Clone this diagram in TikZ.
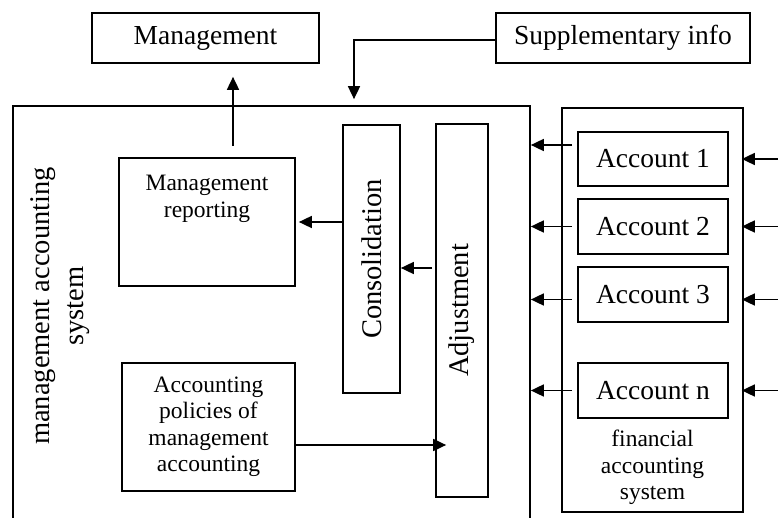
\documentclass[tikz,border=0pt]{standalone}
\usepackage{fontspec}
\setmainfont{Liberation Serif}
\usetikzlibrary{arrows.meta}
\begin{document}
\begin{tikzpicture}[x=1pt,y=-1pt,
  box/.style={draw, line width=1.7pt, inner sep=0pt, align=center},
  bigtxt/.style={font=\fontsize{27.5}{33}\selectfont},
  smalltxt/.style={font=\fontsize{23.5}{26.5}\selectfont},
  rottxt/.style={rotate=90, align=center, inner sep=0pt, font=\fontsize{28.5}{34}\selectfont},
  arr/.style={line width=1.7pt, -{Triangle[length=13pt,width=12pt]}},
  ln/.style={line width=1.7pt}]
\useasboundingbox (0,0) rectangle (778,518);
\clip (0,0) rectangle (778,518);
% boxes
\node[box, bigtxt, minimum width=227pt, minimum height=50pt] (mgmt) at (205.5,38) {Management};
\node[box, bigtxt, minimum width=254pt, minimum height=50pt] (supp) at (623,38) {Supplementary info};
\node[box, minimum width=517pt, minimum height=454pt] (main) at (271.5,333) {};
\node[rottxt] (mlab) at (60,306) {management accounting\\system};
\node[box, minimum width=176pt, minimum height=128pt] (rep) at (207,222) {};
\node[smalltxt, align=center, inner sep=0pt, anchor=north] (reptxt) at ([yshift=-18pt]rep.north) {Management\\reporting};
\node[box, minimum width=57pt, minimum height=268pt] (cons) at (371.5,259) {};
\node[rottxt] (constxt) at (cons) {Consolidation};
\node[box, minimum width=52pt, minimum height=373pt] (adj) at (462,310.5) {};
\node[rottxt] (adjtxt) at (adj) {Adjustment};
\node[box, smalltxt, minimum width=173pt, minimum height=128pt] (pol) at (208.5,427) {Accounting\\policies of\\management\\accounting};
\node[box, minimum width=181pt, minimum height=404pt] (fin) at (652.5,310) {};
\node[box, bigtxt, minimum width=150pt, minimum height=54pt] (a1) at (653,159) {Account 1};
\node[box, bigtxt, minimum width=150pt, minimum height=55pt] (a2) at (653,226.5) {Account 2};
\node[box, bigtxt, minimum width=150pt, minimum height=55pt] (a3) at (653,294.5) {Account 3};
\node[box, bigtxt, minimum width=150pt, minimum height=55pt] (an) at (653,390.5) {Account n};
\node[smalltxt, align=center, inner sep=0pt, anchor=north] (fintxt) at (652.5,430) {financial\\accounting\\system};
% coordinates
\coordinate (upstart) at (233,146);
\coordinate (supcorner) at (354,40);
\coordinate (adjin) at (432,268);
\coordinate (polout) at ([yshift=-18pt]pol.east);
\coordinate (pin) at ([xshift=11pt]adj.west);
\coordinate (edge) at (790,0);
% connectors
\draw[arr, shorten >=13pt] (upstart) -- (upstart |- mgmt.south);
\draw[arr, shorten >=6pt] (supp.west |- supcorner) -- (supcorner) -- (supcorner |- main.north);
\draw[arr, shorten >=3pt] (cons.west |- rep.east) -- (rep.east);
\draw[arr] (adjin) -- (adjin -| cons.east);
\draw[arr] (polout) -- (polout -| pin);
% accounts, left arrows
\draw[arr] ([xshift=-5pt,yshift=14pt]a1.west) -- ([yshift=14pt]a1.west -| main.east);
\draw[arr] ([xshift=-5pt]a2.west) -- (a2.west -| main.east);
\draw[arr] ([xshift=-5pt,yshift=-5pt]a3.west) -- ([yshift=-5pt]a3.west -| main.east);
\draw[arr] ([xshift=-5pt]an.west) -- (an.west -| main.east);
% accounts, right arrows
\draw[arr] (a1.east -| edge) -- ([xshift=13pt]a1.east);
\draw[arr] (a2.east -| edge) -- ([xshift=13pt]a2.east);
\draw[arr] ([yshift=-5pt]a3.east -| edge) -- ([xshift=13pt,yshift=-5pt]a3.east);
\draw[arr] (an.east -| edge) -- ([xshift=13pt]an.east);
\end{tikzpicture}
\end{document}
